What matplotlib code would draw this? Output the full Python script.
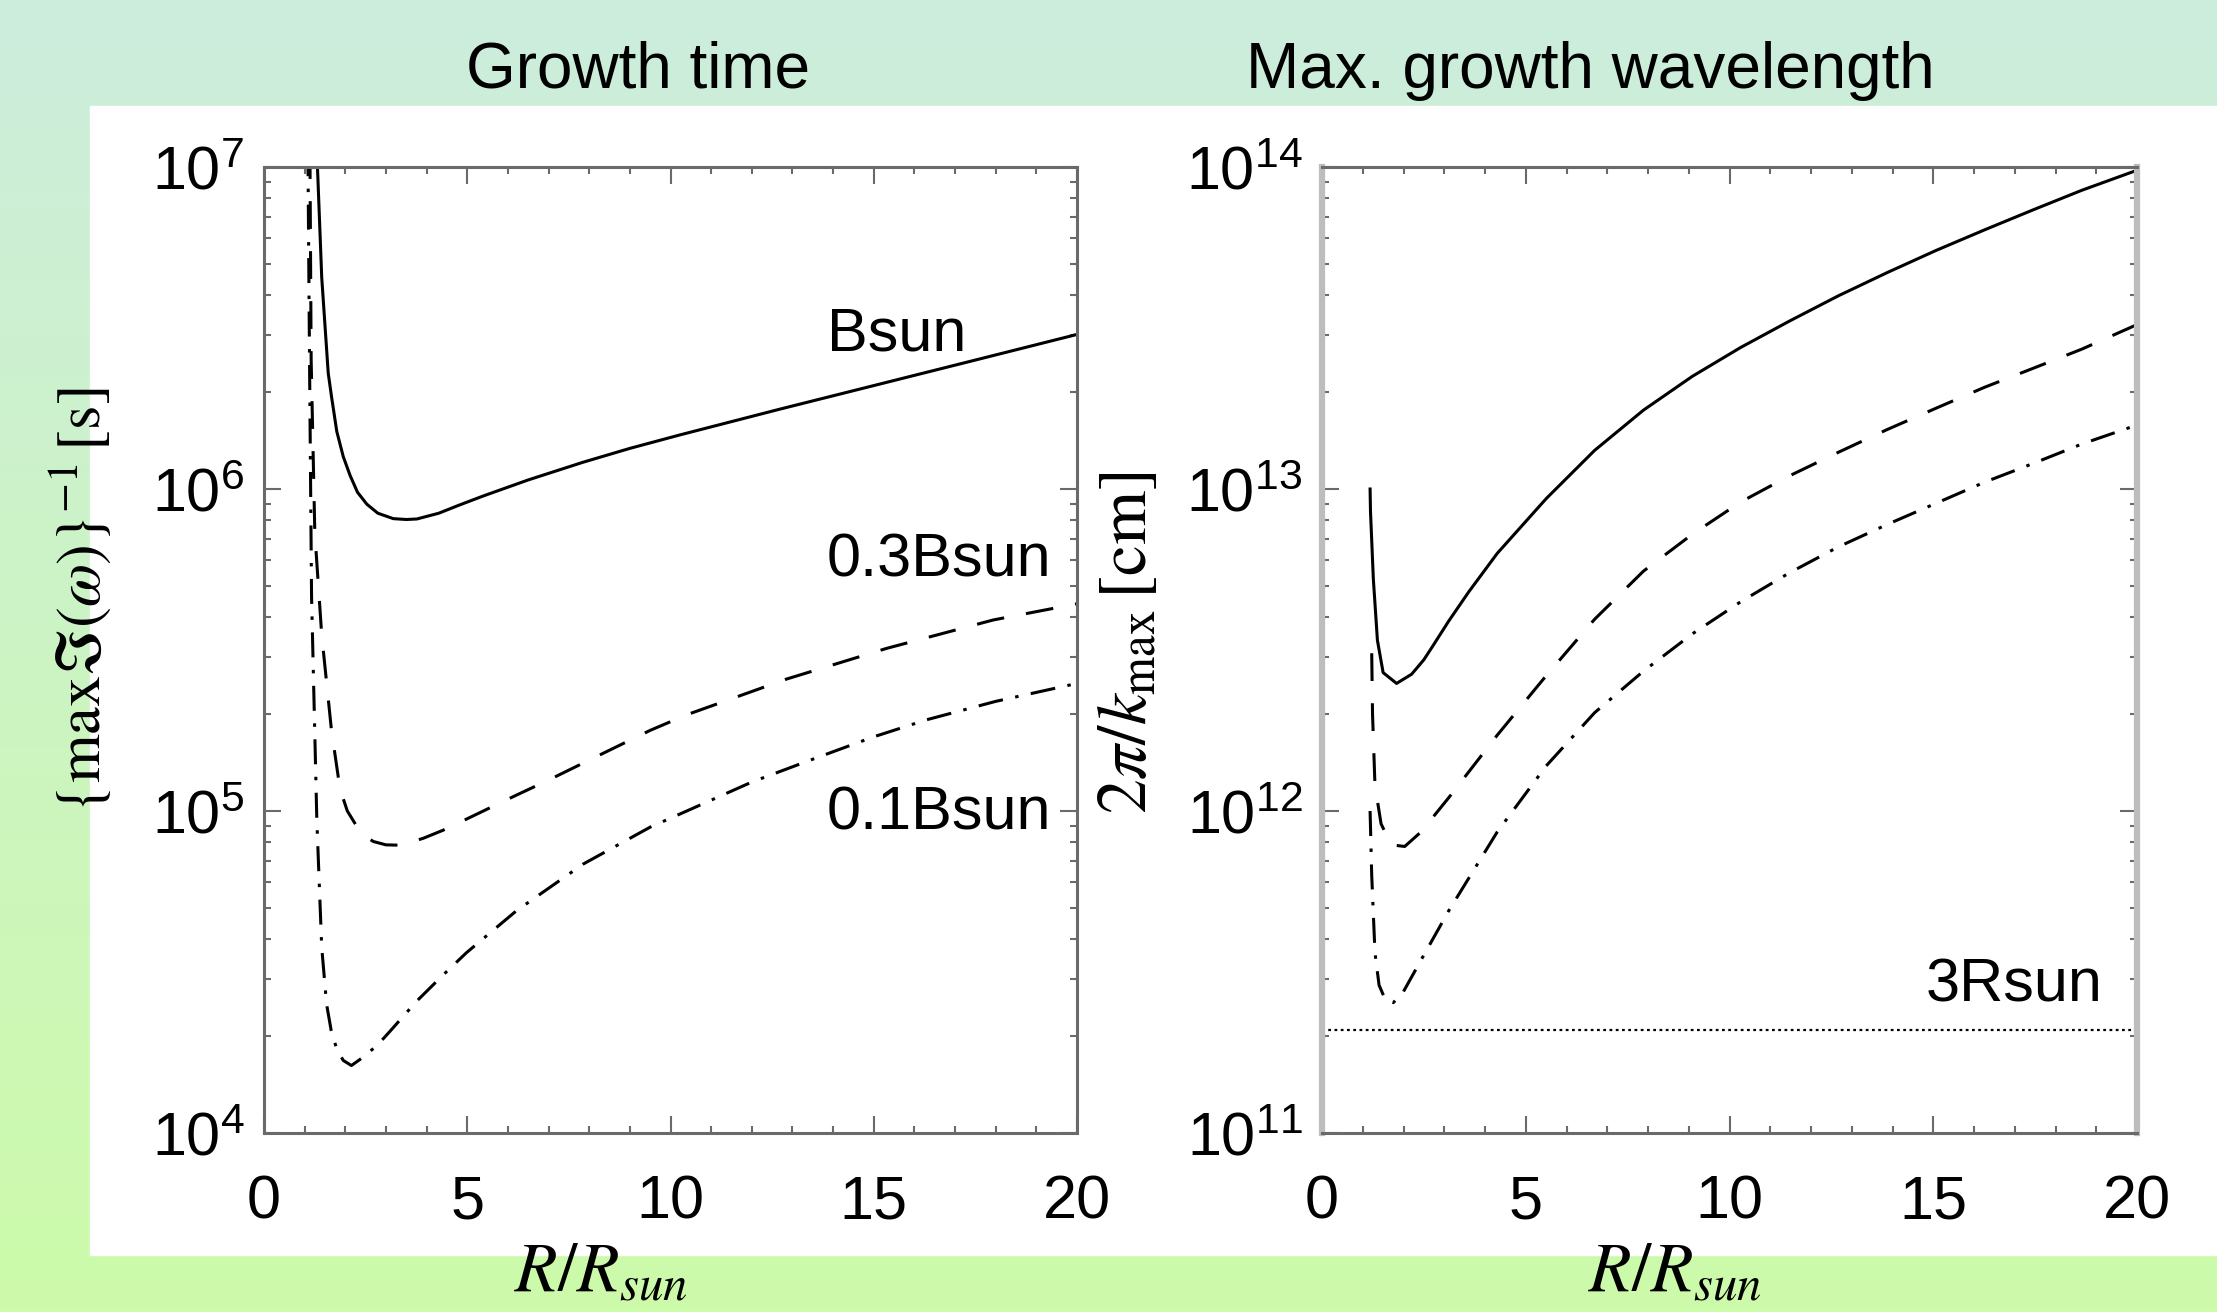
import numpy as np
import matplotlib
matplotlib.use('Agg')
import matplotlib.pyplot as plt
from matplotlib.ticker import MultipleLocator, LogLocator, FixedLocator, FixedFormatter, NullFormatter
from matplotlib.patches import Rectangle

plt.rcParams['font.family'] = ['Liberation Sans', 'DejaVu Sans']
plt.rcParams['mathtext.fontset'] = 'custom'
plt.rcParams['mathtext.rm'] = 'Liberation Sans'
plt.rcParams['mathtext.it'] = 'Liberation Sans:italic'
plt.rcParams['mathtext.bf'] = 'Liberation Sans:bold'
plt.rcParams['lines.scale_dashes'] = False

### growth time (left panel)
r_b1 = [1.30, 1.42, 1.58, 1.66, 1.79, 1.95, 2.12, 2.30, 2.53, 2.80, 3.18, 3.50, 3.76, 4.30, 4.80,
        5.39, 6.50, 7.85, 9.00, 10.23, 12.69, 15.15, 17.61, 20.0]
t_b1 = [1.12e7, 4.54e6, 2.29e6, 1.94e6, 1.51e6, 1.26e6, 1.10e6, 9.77e5, 8.97e5, 8.41e5, 8.09e5,
        8.04e5, 8.07e5, 8.41e5, 8.91e5, 9.51e5, 1.067e6, 1.211e6, 1.337e6, 1.472e6, 1.770e6,
        2.118e6, 2.535e6, 3.02e6]

r_b03 = [1.13, 1.16, 1.25, 1.42, 1.66, 1.87, 2.05, 2.28, 2.45, 2.69, 3.00, 3.35, 3.91, 4.40, 4.9,
         5.97, 7.03, 8.34, 9.5, 10.40, 12.86, 15.32, 17.94, 20.0]
t_b03 = [1.12e7, 2.51e6, 7.31e5, 3.52e5, 1.78e5, 1.17e5, 1.0e5, 8.97e4, 8.41e4, 8.04e4, 7.85e4,
         7.83e4, 8.22e4, 8.71e4, 9.33e4, 1.084e5, 1.253e5, 1.51e5, 1.78e5, 1.99e5, 2.57e5, 3.20e5,
         3.92e5, 4.40e5]

r_b01 = [1.08, 1.12, 1.17, 1.30, 1.42, 1.54, 1.65, 1.79, 1.95, 2.15, 2.44, 2.80, 3.10, 3.76, 4.40,
         4.98, 6.21, 7.85, 9.5, 10.40, 12.0, 13.51, 15.0, 16.30, 18.0, 20.0]
t_b01 = [1.12e7, 2.51e6, 4.63e5, 9.33e4, 3.77e4, 2.51e4, 2.09e4, 1.82e4, 1.68e4, 1.62e4, 1.72e4,
         1.88e4, 2.07e4, 2.57e4, 3.09e4, 3.63e4, 4.90e4, 6.84e4, 8.91e4, 1.0e5, 1.23e5, 1.45e5,
         1.70e5, 1.92e5, 2.19e5, 2.49e5]

### max growth wavelength (right panel)
w_r_b1 = [1.18, 1.19, 1.26, 1.36, 1.50, 1.83, 2.20, 2.50, 2.73, 3.11, 3.60, 4.30, 5.50, 6.69, 7.89,
          9.09, 10.28, 11.48, 12.67, 13.87, 15.06, 16.26, 17.45, 18.65, 20.0]
w_b1 = [1.0e13, 8.51e12, 5.25e12, 3.39e12, 2.69e12, 2.49e12, 2.66e12, 2.95e12, 3.27e12, 3.89e12,
        4.79e12, 6.31e12, 9.33e12, 1.318e13, 1.758e13, 2.239e13, 2.754e13, 3.327e13, 3.98e13,
        4.70e13, 5.50e13, 6.38e13, 7.36e13, 8.47e13, 9.77e13]

w_r_b03 = [1.22, 1.24, 1.30, 1.45, 1.70, 2.03, 2.43, 3.11, 4.30, 5.50, 6.69, 7.89, 9.09, 10.28,
           11.48, 12.67, 13.87, 15.06, 16.26, 17.45, 18.65, 20.0]
w_b03 = [3.09e12, 2.0e12, 1.20e12, 9.12e11, 7.85e11, 7.76e11, 8.61e11, 1.10e12, 1.72e12, 2.63e12,
         3.94e12, 5.56e12, 7.24e12, 9.12e12, 1.10e13, 1.30e13, 1.53e13, 1.78e13, 2.07e13, 2.37e13,
         2.72e13, 3.24e13]

w_r_b01 = [1.18, 1.22, 1.30, 1.40, 1.55, 1.75, 2.0, 2.4, 3.11, 4.30, 5.50, 6.69, 7.89, 9.09, 10.28,
           11.48, 12.67, 13.87, 15.06, 16.26, 17.45, 18.65, 20.0]
w_b01 = [1.0e12, 6.31e11, 3.63e11, 2.88e11, 2.60e11, 2.54e11, 2.75e11, 3.39e11, 4.90e11, 8.61e11,
         1.38e12, 2.02e12, 2.72e12, 3.55e12, 4.47e12, 5.50e12, 6.61e12, 7.76e12, 9.02e12, 1.05e13,
         1.20e13, 1.38e13, 1.58e13]

three_rsun = 2.09e11
rsun_line_x = [0, 20]

xticks = [0, 5, 10, 15, 20]
left_yticks = [1e4, 1e5, 1e6, 1e7]
left_ylabels = [r'$10^{4}$', r'$10^{5}$', r'$10^{6}$', r'$10^{7}$']
right_yticks = [1e11, 1e12, 1e13, 1e14]
right_ylabels = [r'$10^{11}$', r'$10^{12}$', r'$10^{13}$', r'$10^{14}$']

W, H = 2217, 1312
fig = plt.figure(figsize=(W / 100, H / 100), dpi=100)

# background gradient + white panel
bg = fig.add_axes([0, 0, 1, 1], zorder=-10)
top_c = np.array([204, 237, 221]) / 255
bot_c = np.array([204, 251, 170]) / 255
t = np.linspace(0, 1, 256)[:, None]
grad = (top_c[None, :] * (1 - t) + bot_c[None, :] * t)[:, None, :]
bg.imshow(grad, extent=[0, 1, 0, 1], aspect='auto', origin='upper')
bg.add_patch(Rectangle((90 / W, (H - 1255) / H), 1 - 90 / W, (1255 - 106) / H, color='white'))
bg.set_xlim(0, 1)
bg.set_ylim(0, 1)
bg.axis('off')

dark = '#6a6a6a'
light = '#bdbdbd'
dashed = (0, (20, 16))
dashdot = (0, (18, 9, 2.5, 9))


def setup(ax, yticks, ylabels, ylim):
    ax.set_yscale('log')
    ax.set_xlim(0, 20)
    ax.set_ylim(*ylim)
    ax.xaxis.set_major_locator(FixedLocator(xticks))
    ax.xaxis.set_minor_locator(MultipleLocator(1))
    ax.set_xticklabels([str(v) for v in xticks])
    ax.yaxis.set_major_locator(FixedLocator(yticks))
    ax.yaxis.set_major_formatter(FixedFormatter(ylabels))
    ax.yaxis.set_minor_locator(LogLocator(base=10, subs=np.arange(2, 10)))
    ax.yaxis.set_minor_formatter(NullFormatter())
    ax.tick_params(which='both', direction='in', top=True, right=True, color=dark, width=1.5)
    ax.tick_params(which='major', length=12, labelsize=44)
    ax.tick_params(which='minor', length=5)
    ax.tick_params(axis='x', which='major', pad=30)
    ax.tick_params(axis='y', which='major', pad=14)
    for s in ax.spines.values():
        s.set_color(dark)
        s.set_linewidth(2.2)


ax1 = fig.add_axes([264 / W, (H - 1133) / H, 813 / W, 966 / H])
ax1.plot(r_b1, t_b1, color='black', lw=2.2, solid_joinstyle='round')
ax1.plot(r_b03, t_b03, color='black', lw=2.2, linestyle=dashed)
ax1.plot(r_b01, t_b01, color='black', lw=2.2, linestyle=dashdot)
setup(ax1, left_yticks, left_ylabels, (1e4, 1e7))
ax1.text(13.84, 2.70e6, 'Bsun', fontsize=44, va='baseline', ha='left')
ax1.text(13.84, 5.35e5, '0.3Bsun', fontsize=44, va='baseline', ha='left')
ax1.text(13.84, 8.73e4, '0.1Bsun', fontsize=44, va='baseline', ha='left')

ax2 = fig.add_axes([1322 / W, (H - 1133) / H, 815 / W, 966 / H])
ax2.plot(w_r_b1, w_b1, color='black', lw=2.2, solid_joinstyle='round')
ax2.plot(w_r_b03, w_b03, color='black', lw=2.2, linestyle=dashed)
ax2.plot(w_r_b01, w_b01, color='black', lw=2.2, linestyle=dashdot)
ax2.plot(rsun_line_x, [three_rsun, three_rsun], color='black', lw=1.6, linestyle=(0, (2, 2.5)),
         clip_on=False)
setup(ax2, right_yticks, right_ylabels, (1e11, 1e14))
ax2.spines['left'].set_color(light)
ax2.spines['right'].set_color(light)
ax2.spines['left'].set_linewidth(4.5)
ax2.spines['right'].set_linewidth(4.5)
ax2.text(14.82, 2.57e11, '3Rsun', fontsize=44, va='baseline', ha='left')

# titles
fig.text(638 / W, (H - 88) / H, 'Growth time', fontsize=46, ha='center', va='baseline')
fig.text(1590 / W, (H - 88) / H, 'Max. growth wavelength', fontsize=46, ha='center', va='baseline')

# axis labels
fig.text(80 / W, (H - 600) / H, r'$\{\mathrm{max}\Im(\omega)\}^{-1}\,[\mathrm{s}]$',
         rotation=90, fontsize=45, ha='center', va='center', math_fontfamily='stix')
fig.text(1128 / W, (H - 643) / H, r'$2\pi/k_{\mathrm{max}}\,[\mathrm{cm}]$',
         rotation=90, fontsize=50, ha='center', va='center', math_fontfamily='stix')
fig.text(514 / W, (H - 1291) / H, r'$R/R_{sun}$', fontsize=50, ha='left', va='baseline',
         math_fontfamily='stix')
fig.text(1588 / W, (H - 1291) / H, r'$R/R_{sun}$', fontsize=50, ha='left', va='baseline',
         math_fontfamily='stix')

fig.savefig('out.png', dpi=100)
